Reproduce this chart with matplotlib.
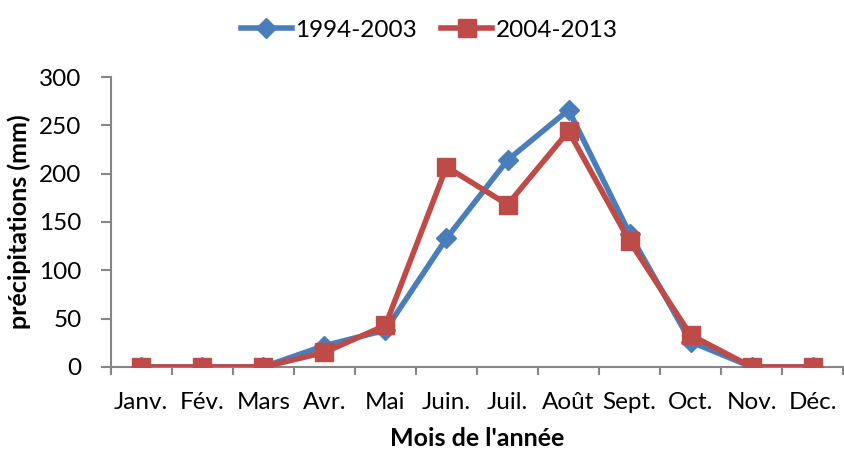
import matplotlib
matplotlib.use("Agg")
from matplotlib import pyplot as plt

months = ["Janv.", "Fév.", "Mars", "Avr.", "Mai", "Juin.", "Juil.", "Août", "Sept.", "Oct.", "Nov.", "Déc."]
p_1994_2003 = [0, 0, 0, 22, 38, 133, 214, 266, 138, 26, 0, 0]
p_2004_2013 = [0, 0, 0, 15, 43, 207, 168, 244, 130, 33, 0, 0]

plt.rcParams['font.family'] = ['Lato', 'DejaVu Sans']
fs = 17.5
fs_lab = 18

fig = plt.figure(figsize=(8.45, 4.53), dpi=100)
ax = fig.add_axes([0.131, 0.19, 0.867, 0.64])

x = list(range(len(months)))
ax.plot(x, p_1994_2003, color="#4a7ebb", lw=4, marker="D", ms=10, label="1994-2003", zorder=3)
ax.plot(x, p_2004_2013, color="#be4b48", lw=4, marker="s", ms=13.5, label="2004-2013", zorder=4)

ax.set_xlim(-0.5, 11.5)
ax.set_ylim(0, 300)
ax.set_yticks(range(0, 301, 50))
ax.set_xticks(x)
ax.set_xticklabels(months)
ax.set_xticks([i + 0.5 for i in range(-1, 12)], minor=True)
ax.tick_params(axis="x", which="major", length=0, labelsize=fs, pad=18)
ax.tick_params(axis="x", which="minor", length=6, color="#868686", width=1.5)
ax.tick_params(axis="y", length=7, color="#868686", width=1.5, labelsize=fs, pad=14)
for s in ["top", "right"]:
    ax.spines[s].set_visible(False)
for s in ["left", "bottom"]:
    ax.spines[s].set_color("#868686")
    ax.spines[s].set_linewidth(1.5)

ax.set_ylabel("précipitations (mm)", fontsize=fs_lab, fontweight="bold", labelpad=6)
ax.set_xlabel("Mois de l'année", fontsize=fs_lab, fontweight="bold", labelpad=10)

fig.legend(loc="upper center", bbox_to_anchor=(0.508, 1.005), ncol=2, frameon=False,
           fontsize=fs, handlelength=2.1, handletextpad=0.15, columnspacing=1.0)

fig.savefig("out.png", dpi=100)
